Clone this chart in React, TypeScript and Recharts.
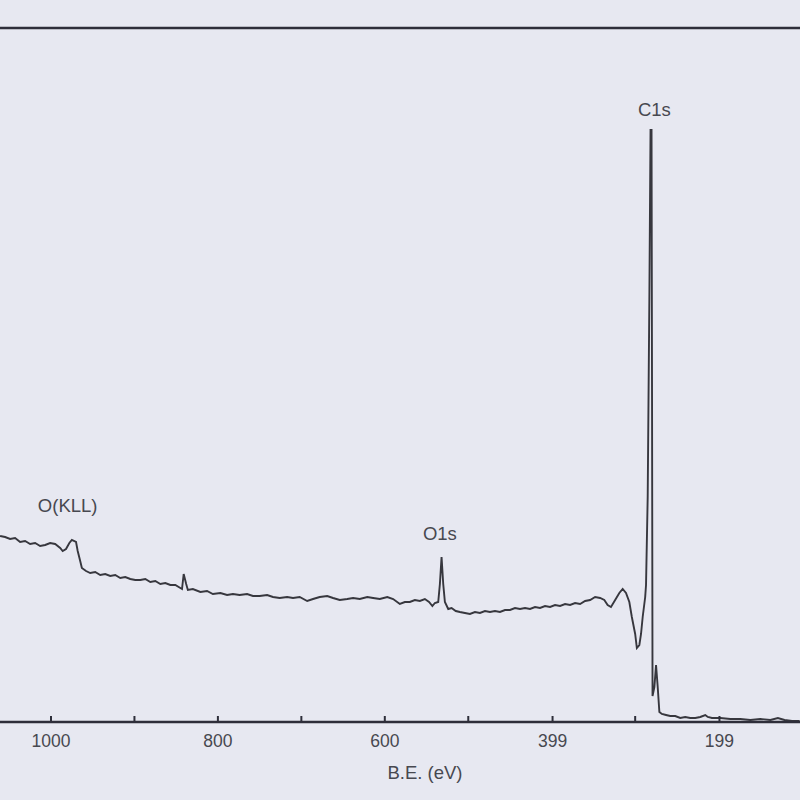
import {
  Label,
  Line,
  LineChart,
  ReferenceDot,
  ReferenceLine,
  XAxis,
  YAxis,
} from "recharts";

// binding energy (eV)
const bindingEnergy = [
  1061, 1055, 1049, 1043, 1037, 1031, 1025, 1019, 1013, 1007, 1001, 995, 989, 986, 982, 978, 975, 970, 968, 965,
  963, 958, 953, 947, 941, 935, 929, 923, 917, 911, 905, 899, 893, 887, 881, 875, 869, 863, 857, 851,
  845, 843, 841, 838, 836, 830, 821, 813, 806, 797, 789, 782, 774, 765, 758, 750, 741, 734, 726, 717,
  710, 702, 693, 686, 678, 669, 662, 654, 645, 638, 630, 621, 614, 606, 597, 590, 582, 576, 570, 564,
  558, 552, 547, 543, 540, 536, 534, 532, 530, 528, 524, 520, 515, 510, 504, 498, 492, 486, 480, 474,
  468, 462, 456, 450, 444, 438, 432, 426, 420, 414, 408, 402, 396, 390, 384, 378, 372, 366, 360, 354,
  348, 342, 337, 333, 329, 324, 319, 315, 311, 307, 304, 300, 298, 295, 293, 291, 288, 287, 285, 283,
  281.6, 280.4, 279.8, 279.2, 277, 275, 273, 271, 268, 263, 258, 252, 246, 240, 234, 228, 222, 216, 213, 208,
  198, 186, 174, 162, 150, 138, 129, 121, 112, 103,
];

// intensity (arb. units)
const intensity = [
  186, 185, 183, 184, 180, 181, 178, 179, 176, 177, 179, 178, 174, 171, 173, 179, 182, 180, 171, 161,
  154, 151, 149, 150, 147, 148, 146, 147, 144, 145, 143, 142, 142, 143, 140, 141, 138, 139, 137, 137,
  134, 133, 148, 138, 132, 133, 130, 131, 128, 129, 127, 128, 127, 128, 126, 126, 127, 125, 124, 125,
  124, 125, 121, 123, 125, 126, 124, 122, 123, 124, 123, 125, 124, 123, 125, 123, 118, 120, 120, 122,
  121, 123, 120, 116, 119, 120, 138, 165, 138, 120, 113, 114, 111, 110, 109, 108, 110, 109, 111, 110,
  111, 110, 112, 112, 114, 113, 114, 113, 115, 114, 116, 115, 117, 116, 118, 117, 119, 118, 121, 122,
  125, 124, 122, 117, 115, 122, 129, 133, 129, 120, 105, 88, 74, 77, 88, 105, 125, 137, 225, 425,
  592, 592, 325, 26, 35, 57, 35, 10, 8, 7, 6, 6, 4, 5, 4, 4, 5, 7, 5, 4,
  4, 3, 3, 2, 3, 2, 4, 2, 1, 1,
];

const majorTicks = [1000, 800, 600, 399, 199];
const minorTicks = [900, 700, 500, 300];

const peakNames = ["O(KLL)", "O1s", "C1s"];
const peakLabelBE = [980, 534, 277];
const peakLabelY = [217, 189, 613];

const data = bindingEnergy.map((be, i) => ({ be, counts: intensity[i] }));
const allTicks = [...majorTicks, ...minorTicks].sort((a, b) => b - a);

const ink = "#2e2e3a";
const textColor = "#474850";
const font = "'Liberation Sans', Arial, sans-serif";

const AxisTick = (props: any) => {
  const { x, y, payload } = props;
  const showLabel = majorTicks.includes(payload.value);
  return (
    <g>
      <line x1={x} x2={x} y1={y} y2={y - 6} stroke={ink} strokeWidth={2} />
      {showLabel && (
        <text
          x={x}
          y={y + 25}
          textAnchor="middle"
          fill={textColor}
          fontSize={17.5}
          fontFamily={font}
        >
          {payload.value}
        </text>
      )}
    </g>
  );
};

export default function App() {
  return (
    <div
      style={{
        position: "absolute",
        left: 0,
        top: 0,
        width: 800,
        height: 800,
        background: "#e7e8f1",
      }}
    >
      <LineChart
        width={800}
        height={800}
        data={data}
        margin={{ top: 28, right: 0, bottom: 0, left: 0 }}
      >
        <XAxis
          dataKey="be"
          type="number"
          domain={[102.5, 1061.1]}
          reversed
          allowDataOverflow
          ticks={allTicks}
          interval={0}
          tick={<AxisTick />}
          tickLine={false}
          tickSize={0}
          tickMargin={0}
          height={78}
          axisLine={{ stroke: ink, strokeWidth: 2.5 }}
        >
          <Label
            value="B.E. (eV)"
            position="insideBottom"
            offset={21}
            dx={25}
            fill={textColor}
            fontSize={18.5}
            fontFamily={font}
          />
        </XAxis>
        <YAxis hide type="number" domain={[0, 694]} allowDataOverflow />
        <ReferenceLine y={694} stroke={ink} strokeWidth={2.5} />
        <Line
          type="linear"
          dataKey="counts"
          stroke="#37373e"
          strokeWidth={1.9}
          dot={false}
          isAnimationActive={false}
        />
        {peakNames.map((name, i) => (
          <ReferenceDot
            key={name}
            x={peakLabelBE[i]}
            y={peakLabelY[i]}
            r={0}
            stroke="none"
            fill="none"
            label={{
              value: name,
              position: "center",
              fill: textColor,
              fontSize: 18.5,
              fontFamily: font,
            }}
          />
        ))}
      </LineChart>
    </div>
  );
}
